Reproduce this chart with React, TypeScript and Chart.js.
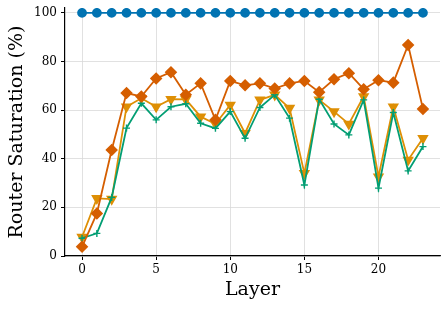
import React, { useEffect, useRef } from "react";
import { Chart, registerables } from "chart.js";

Chart.register(...registerables);

const layers = Array.from({ length: 24 }, (_, i) => i);
const seriesBlue = [100,100,100,100,100,100,100,100,100,100,100,100,100,100,100,100,100,100,100,100,100,100,100,100];
const seriesYellow = [7.8,23.7,23.4,61.4,64.9,61.4,64.5,64.4,57.3,54.3,62.1,50.5,64.2,66.3,60.8,34,64.2,59.4,54.3,65.6,32.6,61.4,39.5,48.4];
const seriesGreen = [7.3,9.3,24.1,52.6,62.8,56,61.4,62.6,54.6,52.5,59.4,48.4,61.1,66.3,56.7,29.2,64.5,54.3,49.8,64.2,27.9,59,35,45];
const seriesRed = [3.8,17.5,43.6,67,65.6,73,75.6,66.3,71,56,72,70.2,71,68.9,71,72,67.4,72.7,75.2,68.6,72.3,71.3,86.8,60.5];
const xTicks = [0, 5, 10, 15, 20];
const yTicks = [0, 20, 40, 60, 80, 100];

const FONT = "'DejaVu Serif', serif";

export default function App() {
  const ref = useRef<HTMLCanvasElement | null>(null);
  useEffect(() => {
    document.body.style.margin = "0";
    const mk = (vals: number[]) => vals.map((v, i) => ({ x: layers[i], y: v }));
    const chart = new Chart(ref.current as HTMLCanvasElement, {
      type: "line",
      data: {
        datasets: [
          { data: mk(seriesRed), borderColor: "#D55E00", backgroundColor: "#D55E00", pointStyle: "rectRot", pointRadius: 5, borderWidth: 1.8, order: 0 },
          { data: mk(seriesGreen), borderColor: "#029E73", backgroundColor: "#029E73", pointStyle: "cross", pointRadius: 3.5, pointBorderWidth: 1.4, borderWidth: 1.8, order: 1 },
          { data: mk(seriesYellow), borderColor: "#DE8F05", backgroundColor: "#DE8F05", pointStyle: "triangle", pointRotation: 180, pointRadius: 4.8, borderWidth: 1.8, order: 2 },
          { data: mk(seriesBlue), borderColor: "#0173B2", backgroundColor: "#0173B2", pointStyle: "circle", pointRadius: 4, borderWidth: 1.8, order: 3 },
        ],
      },
      options: {
        animation: false,
        responsive: false,
        layout: { padding: { left: 0, right: 8, top: 8, bottom: 0 } },
        plugins: { legend: { display: false }, tooltip: { enabled: false } },
        scales: {
          x: {
            type: "linear",
            min: -1.15,
            max: 24.15,
            afterBuildTicks: (s: any) => { s.ticks = xTicks.map((v) => ({ value: v })); },
            afterFit: (s: any) => { s.height = 53; s.paddingLeft = 0; s.paddingRight = 0; },
            grid: { color: "#d9d9d9", lineWidth: 0.8, borderDash: [3, 1.5], tickColor: "#000", tickLength: 4, tickBorderDash: [], tickWidth: 1 },
            border: { display: true, color: "#000", width: 1.2 },
            ticks: { color: "#000", font: { family: FONT, size: 12 }, padding: 3, maxRotation: 0 },
            title: { display: true, text: "Layer", color: "#000", font: { family: FONT, size: 19 }, padding: { top: 0, bottom: 7.5 } },
          },
          y: {
            type: "linear",
            min: 0,
            max: 102,
            afterBuildTicks: (s: any) => { s.ticks = yTicks.map((v) => ({ value: v })); },
            afterFit: (s: any) => { s.width = 65; s.paddingTop = 0; s.paddingBottom = 0; },
            grid: { color: "#d9d9d9", lineWidth: 0.8, borderDash: [3, 1.5], tickColor: "#000", tickLength: 4, tickBorderDash: [], tickWidth: 1 },
            border: { display: true, color: "#000", width: 1.2 },
            ticks: { color: "#000", font: { family: FONT, size: 12 }, padding: 4 },
            title: { display: true, text: "Router Saturation (%)", color: "#000", font: { family: FONT, size: 19 }, padding: { top: 6, bottom: 0 } },
          },
        },
      },
    } as any);
    return () => chart.destroy();
  }, []);
  return <canvas ref={ref} width={448} height={309} style={{ display: "block" }} />;
}
